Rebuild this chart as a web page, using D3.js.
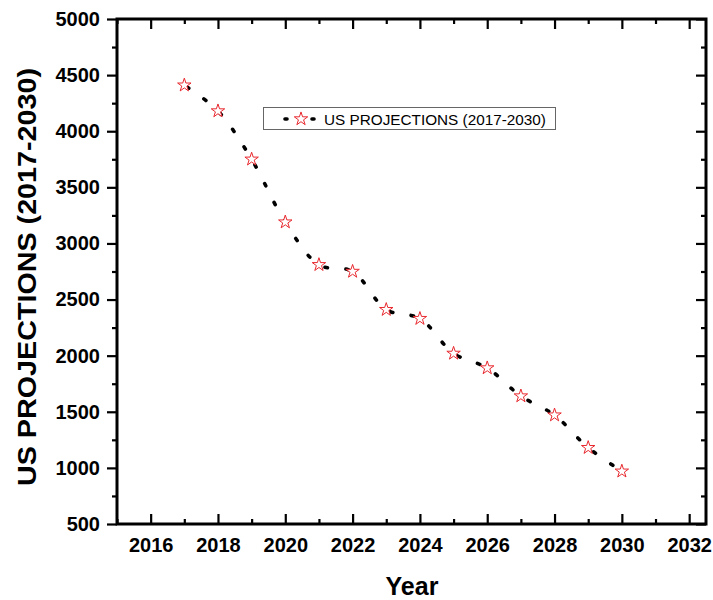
<!DOCTYPE html>
<html>
<head>
<meta charset="utf-8">
<script src="https://cdn.jsdelivr.net/npm/d3@7"></script>
<style>
  html, body { margin: 0; padding: 0; background: #fff; }
  svg { display: block; font-family: "Liberation Sans", Arial, sans-serif; }
</style>
</head>
<body>
<svg id="chart" width="713" height="600"></svg>
<script>
// ---- data ----
const years = [2017, 2018, 2019, 2020, 2021, 2022, 2023, 2024, 2025, 2026, 2027, 2028, 2029, 2030];
const projections = [4410, 4180, 3750, 3190, 2810, 2750, 2410, 2330, 2020, 1890, 1640, 1470, 1180, 970];
const xTicks = [2016, 2018, 2020, 2022, 2024, 2026, 2028, 2030, 2032];
const xMinorTicks = [2015, 2017, 2019, 2021, 2023, 2025, 2027, 2029, 2031];
const yTicks = [500, 1000, 1500, 2000, 2500, 3000, 3500, 4000, 4500, 5000];
const yMinorTicks = [750, 1250, 1750, 2250, 2750, 3250, 3750, 4250, 4750];
const seriesName = "US PROJECTIONS (2017-2030)";
const xTitle = "Year";
const yTitle = "US PROJECTIONS (2017-2030)";

// ---- layout ----
const plotLeft = 117, plotRight = 706, plotTop = 19, plotBottom = 524;
const svg = d3.select("#chart");

const x = d3.scaleLinear().domain([2015, 2032.5]).range([plotLeft, plotRight]);
const y = d3.scaleLinear().domain([500, 5000]).range([plotBottom, plotTop]);

const fmt = d3.format("d");

function styleAxis(g) {
  g.select(".domain").remove();
  g.selectAll(".tick line").attr("stroke", "#000").attr("stroke-width", 2.2);
  g.selectAll(".tick text")
    .attr("fill", "#000")
    .style("font-size", "20px")
    .style("font-weight", "bold")
    .style("font-family", "'Liberation Sans', Arial, sans-serif");
}

// bottom axis (ticks inward)
svg.append("g").attr("transform", `translate(0,${plotBottom})`)
  .call(d3.axisBottom(x).tickValues(xTicks).tickFormat(fmt).tickSize(-10).tickPadding(14))
  .call(styleAxis);
svg.append("g").attr("transform", `translate(0,${plotBottom})`)
  .call(d3.axisBottom(x).tickValues(xMinorTicks).tickFormat("").tickSize(-5))
  .call(styleAxis);

// top axis (ticks inward)
svg.append("g").attr("transform", `translate(0,${plotTop})`)
  .call(d3.axisTop(x).tickValues(xTicks).tickFormat("").tickSize(-10))
  .call(styleAxis);
svg.append("g").attr("transform", `translate(0,${plotTop})`)
  .call(d3.axisTop(x).tickValues(xMinorTicks).tickFormat("").tickSize(-5))
  .call(styleAxis);

// left axis (ticks outward)
svg.append("g").attr("transform", `translate(${plotLeft},0)`)
  .call(d3.axisLeft(y).tickValues(yTicks).tickFormat(fmt).tickSize(10).tickPadding(7))
  .call(styleAxis);
svg.append("g").attr("transform", `translate(${plotLeft},0)`)
  .call(d3.axisLeft(y).tickValues(yMinorTicks).tickFormat("").tickSize(5))
  .call(styleAxis);

// right axis (ticks inward)
svg.append("g").attr("transform", `translate(${plotRight},0)`)
  .call(d3.axisRight(y).tickValues(yTicks).tickFormat("").tickSize(-10))
  .call(styleAxis);
svg.append("g").attr("transform", `translate(${plotRight},0)`)
  .call(d3.axisRight(y).tickValues(yMinorTicks).tickFormat("").tickSize(-5))
  .call(styleAxis);

// frame
svg.append("rect")
  .attr("x", plotLeft).attr("y", plotTop)
  .attr("width", plotRight - plotLeft).attr("height", plotBottom - plotTop)
  .attr("fill", "none").attr("stroke", "#000").attr("stroke-width", 3);

// data line
const data = years.map((yr, i) => ({ yr, v: projections[i] }));
const line = d3.line().x(d => x(d.yr)).y(d => y(d.v)).curve(d3.curveCatmullRom.alpha(0.5));
svg.append("path")
  .datum(data)
  .attr("d", line)
  .attr("fill", "none")
  .attr("stroke", "#000")
  .attr("stroke-width", 3.6)
  .attr("stroke-linecap", "round")
  .attr("stroke-dasharray", "2.5,18.5")
  .attr("stroke-dashoffset", -3);

// star markers
const star = d3.symbol().type(d3.symbolStar).size(56);
svg.append("g").selectAll("path")
  .data(data)
  .join("path")
  .attr("transform", d => `translate(${x(d.yr)},${y(d.v)})`)
  .attr("d", star)
  .attr("fill", "#fff")
  .attr("stroke", "#e8282e")
  .attr("stroke-width", 1);

// legend
const lg = svg.append("g");
lg.append("rect")
  .attr("x", 263.5).attr("y", 107.5).attr("width", 292).attr("height", 22)
  .attr("fill", "#fff").attr("stroke", "#666").attr("stroke-width", 1);
lg.append("line")
  .attr("x1", 285).attr("x2", 314).attr("y1", 119).attr("y2", 119)
  .attr("stroke", "#000").attr("stroke-width", 3.6)
  .attr("stroke-linecap", "round").attr("stroke-dasharray", "2,25");
lg.append("path")
  .attr("transform", "translate(301,119)")
  .attr("d", star)
  .attr("fill", "#fff").attr("stroke", "#e8282e").attr("stroke-width", 1);
lg.append("text")
  .attr("x", 324).attr("y", 124.5)
  .style("font-size", "15.3px")
  .attr("fill", "#000")
  .text(seriesName);

// axis titles
svg.append("text")
  .attr("x", 412).attr("y", 595)
  .attr("text-anchor", "middle")
  .style("font-size", "25px").style("font-weight", "bold")
  .text(xTitle);
svg.append("text")
  .attr("transform", "translate(36,277) rotate(-90)")
  .attr("text-anchor", "middle")
  .attr("textLength", 418)
  .attr("lengthAdjust", "spacingAndGlyphs")
  .style("font-size", "25px").style("font-weight", "bold")
  .text(yTitle);
</script>
</body>
</html>
